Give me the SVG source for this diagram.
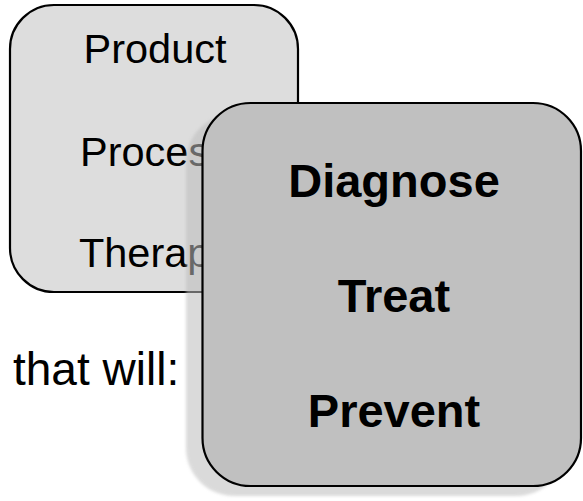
<svg xmlns="http://www.w3.org/2000/svg" width="583" height="501" viewBox="0 0 583 501">
<style>
.box{stroke:#000;stroke-width:2.2}
.t1{font-family:"Liberation Sans",Arial,sans-serif;font-size:41.5px;fill:#000;text-anchor:middle}
.t2{font-family:"Liberation Sans",Arial,sans-serif;font-size:47px;font-weight:bold;fill:#000;text-anchor:middle}
</style>
<defs>
<filter id="blur" x="-10%" y="-10%" width="120%" height="120%"><feGaussianBlur stdDeviation="1.5"/></filter>
</defs>
<rect width="583" height="501" fill="#fff"/>
<g id="node-list">
<rect class="box" x="10" y="5" width="288" height="287" rx="44" ry="44" fill="#dddddd"/>
<text class="t1" x="155" y="63">Product</text>
<text class="t1" x="155" y="166">Process</text>
<text class="t1" x="155" y="267">Therapy</text>
</g>
<g id="label-that-will">
<text class="t1" x="13" y="385" style="text-anchor:start;font-size:46px">that will:</text>
</g>
<g id="node-actions">
<rect x="186" y="114" width="378.5" height="382" rx="48" ry="48" fill="#bdbdbd" opacity="0.55" filter="url(#blur)"/>
<rect class="box" x="202.5" y="103" width="378.5" height="383" rx="48" ry="48" fill="#c0c0c0"/>
<text class="t2" x="394" y="197">Diagnose</text>
<text class="t2" x="394" y="312">Treat</text>
<text class="t2" x="394" y="427">Prevent</text>
</g>
<g id="connectors"/>
</svg>
